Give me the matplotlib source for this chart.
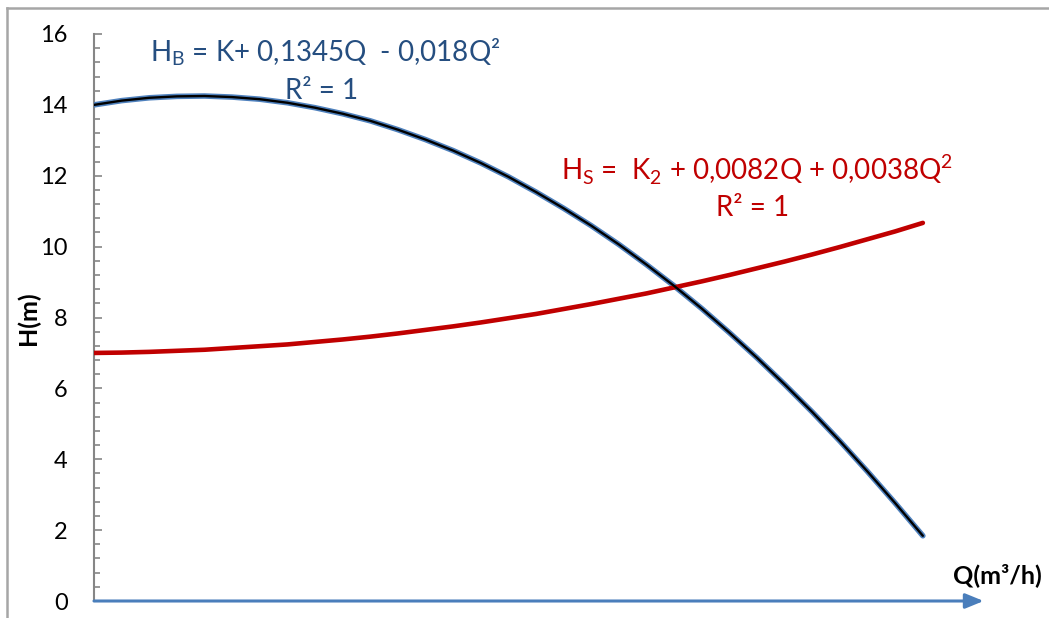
import matplotlib.pyplot as plt
from matplotlib.ticker import MultipleLocator
from matplotlib.lines import Line2D

plt.rcParams['font.family'] = ['Lato', 'DejaVu Sans']

# debit Q (m3/h) et hauteurs
q = list(range(0, 31))
h_pompe = [14.00, 14.12, 14.20, 14.24, 14.25, 14.22, 14.16, 14.06, 13.92, 13.75,
           13.55, 13.30, 13.02, 12.71, 12.36, 11.97, 11.54, 11.08, 10.59, 10.06,
           9.49, 8.89, 8.25, 7.57, 6.86, 6.11, 5.33, 4.51, 3.65, 2.76, 1.84]
h_reseau = [7.00, 7.01, 7.03, 7.06, 7.09, 7.14, 7.19, 7.24, 7.31, 7.38,
            7.46, 7.55, 7.65, 7.75, 7.86, 7.98, 8.10, 8.24, 8.38, 8.53,
            8.68, 8.85, 9.02, 9.20, 9.39, 9.58, 9.78, 9.99, 10.21, 10.43, 10.67]
y_ticks = [0, 2, 4, 6, 8, 10, 12, 14, 16]

fig = plt.figure(figsize=(10.49, 6.18), dpi=100)
ax = fig.add_axes([94 / 1049, 17 / 618, 896 / 1049, 567 / 618])

# courbe de la pompe : noir sur contour bleu
ax.plot(q, h_pompe, color='#4F81BD', lw=4.0, solid_capstyle='round',
        solid_joinstyle='round', zorder=3)
ax.plot(q, h_pompe, color='black', lw=1.7, solid_capstyle='round',
        solid_joinstyle='round', zorder=4)
# courbe du reseau
ax.plot(q, h_reseau, color='#C00000', lw=3.3, solid_capstyle='round',
        solid_joinstyle='round', zorder=3)

ax.set_xlim(0, 32.43)
ax.set_ylim(0, 16)
ax.set_yticks(y_ticks)
ax.yaxis.set_minor_locator(MultipleLocator(0.4))
ax.set_xticks([])
ax.tick_params(axis='y', which='major', direction='in', length=5.5, width=1.2,
               color='#868686', labelsize=17, pad=19)
ax.tick_params(axis='y', which='minor', direction='in', length=4, width=1.2,
               color='#868686')

for s in ['top', 'right', 'bottom']:
    ax.spines[s].set_visible(False)
ax.spines['left'].set_color('#868686')
ax.spines['left'].set_linewidth(1.5)

# axe des debits avec fleche
ax.annotate('', xy=(32.2, 0), xytext=(0, 0),
            arrowprops=dict(arrowstyle='-|>,head_length=1.1,head_width=0.45',
                            color='#4A7EBB', lw=2.2, shrinkA=0, shrinkB=0),
            annotation_clip=False, zorder=5)

ax.text(32.7, 0.73, 'Q(m³/h)', fontsize=18, fontweight='bold', ha='center', va='center')
fig.text(28 / 1049, 1 - 318 / 618, 'H(m)', fontsize=18, fontweight='bold',
         rotation=90, ha='center', va='center')

bleu = '#254E80'
ax.text(2.03, 15.5, r'H$_\mathregular{B}$ = K+ 0,1345Q  - 0,018Q²', fontsize=20,
        color=bleu, ha='left', va='center')
ax.text(8.25, 14.39, 'R² = 1', fontsize=20, color=bleu, ha='center', va='center')

rouge = '#C00000'
ax.text(16.9, 12.16, r'H$_\mathregular{S}$ =  K$_\mathregular{2}$ + 0,0082Q + 0,0038Q$^\mathregular{2}$',
        fontsize=20, color=rouge, ha='left', va='center')
ax.text(23.85, 11.09, 'R² = 1', fontsize=20, color=rouge, ha='center', va='center')

# cadre du graphique
fig.add_artist(Line2D([7 / 1049, 7 / 1049], [0, 1 - 8 / 618], color='#A6A6A6', lw=1.8))
fig.add_artist(Line2D([7 / 1049, 1], [1 - 8 / 618, 1 - 8 / 618], color='#A6A6A6', lw=1.8))

fig.savefig('out.png', dpi=100)
